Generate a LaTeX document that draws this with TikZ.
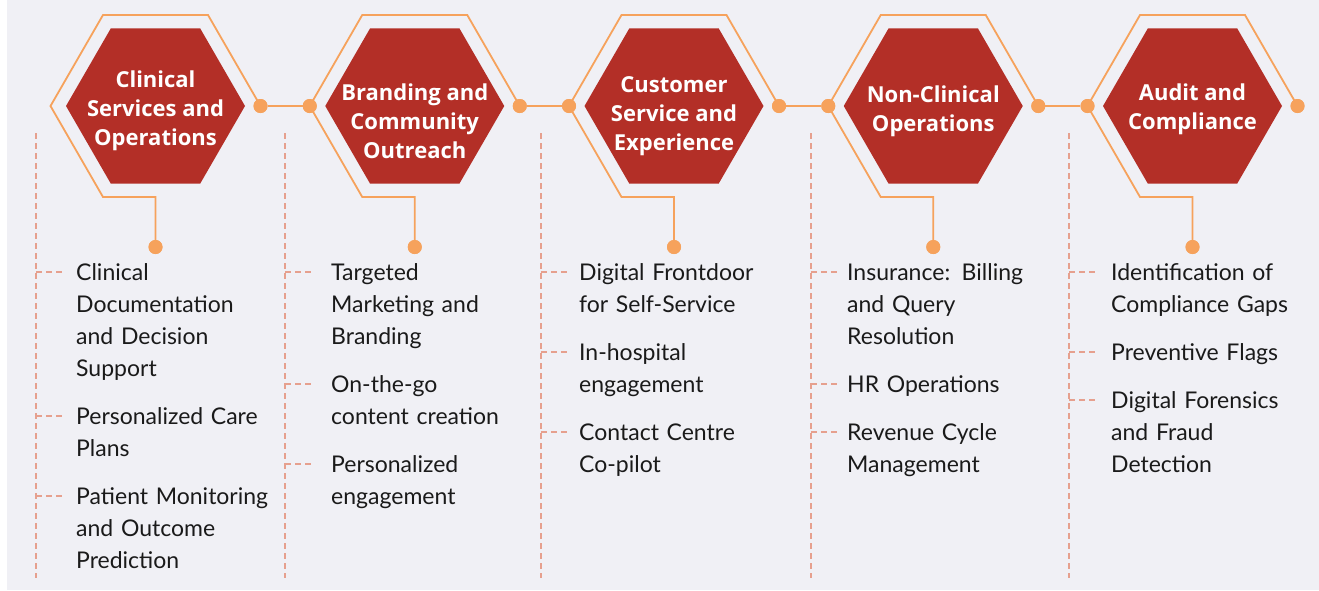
\documentclass[tikz,border=0pt]{standalone}
\usepackage{fontspec}
\setmainfont{Lato}
\newfontfamily\headfont{Open Sans}
\usetikzlibrary{shapes.geometric}
\definecolor{bgc}{HTML}{F0F0F5}
\definecolor{hexred}{HTML}{B32F27}
\definecolor{orng}{HTML}{F6A25C}
\definecolor{dashc}{HTML}{E6A08E}
\definecolor{txt}{HTML}{1A1A1A}
\tikzset{
  hexbox/.style={regular polygon, regular polygon sides=6, minimum size=179pt, inner sep=0pt, fill=hexred, draw=none},
  hextext/.style={text=white, font=\headfont\fontsize{22}{29}\selectfont\bfseries, align=center, inner sep=0pt},
  frame/.style={draw=orng, line width=1.8pt, line join=miter},
  dotc/.style={circle, fill=orng, minimum size=14pt, inner sep=0pt},
  vdash/.style={draw=dashc, line width=1.5pt, dash pattern=on 6pt off 4pt},
  item/.style={text=txt, font=\fontsize{23}{32}\selectfont, align=left, text width=230pt, inner sep=0pt, anchor=base west},
}
\begin{document}
\begin{tikzpicture}[x=1pt,y=-1pt]
\useasboundingbox (0,0) rectangle (1319,590);
\fill[bgc] (7,0) rectangle (1319,590);
% hexagons
\foreach \i/\cx in {1/155.5,2/414.75,3/674,4/933.25,5/1192.5}{
  \node[hexbox] (h\i) at (\cx,106) {};
  \coordinate (tr\i) at (\cx+52.5,15);
  \coordinate (tl\i) at (\cx-52.5,15);
  \coordinate (ml\i) at (\cx-105,106);
  \coordinate (bl\i) at (\cx-52.5,197);
  \coordinate (bc\i) at (\cx,197);
  \node[dotc] (r\i) at (\cx+105,106) {};
  \node[dotc] (b\i) at (\cx,247) {};
  \draw[frame] (r\i.center) -- (tr\i) -- (tl\i) -- (ml\i) -- (bl\i) -- (bc\i) -- (b\i.center);
}
\foreach \i/\cx in {2/414.75,3/674,4/933.25,5/1192.5}{
  \node[dotc] (l\i) at (\cx-105,106) {};
}
\foreach \a/\b in {1/2,2/3,3/4,4/5}{
  \draw[frame] (r\a) -- (l\b);
}
% redraw dots on top
\foreach \i in {1,2,3,4,5}{ \node[dotc] at (r\i) {}; \node[dotc] at (b\i) {}; }
\foreach \i in {2,3,4,5}{ \node[dotc] at (l\i) {}; }
% hexagon titles
\node[hextext] (t1) at (155.5,110.5) {Clinical\\Services and\\Operations};
\node[hextext] (t2) at (414.75,121) {Branding and\\Community\\Outreach};
\node[hextext] (t3) at (674,116.5) {Customer\\Service and\\Experience};
\node[hextext] (t4) at (933.25,111) {Non-Clinical\\Operations};
\node[hextext] (t5) at (1192.5,109) {Audit and\\Compliance};
% dashed verticals
\foreach \j/\x in {1/36,2/285,3/541,4/811,5/1069}{
  \coordinate (vt\j) at (\x,133);
  \coordinate (vb\j) at (\x,578);
  \draw[vdash] (vt\j) -- (vb\j);
}
% items
\newcommand{\itm}[5]{% name, linex, textx, baseline, text
  \node[item] (#1) at (#3,#4) {#5};
  \coordinate (#1s) at (#2,#4-8);
  \coordinate (#1e) at (#2+27,#4-8);
  \draw[vdash] (#1s) -- (#1e);
}
\itm{a1}{36}{76}{280}{Clinical\\Documentation\\and Decision\\Support}
\itm{a2}{36}{76}{424}{Personalized Care\\Plans}
\itm{a3}{36}{76}{504}{Patient Monitoring\\and Outcome\\Prediction}
\itm{b1}{285}{331}{280}{Targeted\\Marketing and\\Branding}
\itm{b2}{285}{331}{392}{On-the-go\\content creation}
\itm{b3}{285}{331}{472}{Personalized\\engagement}
\itm{c1}{541}{579}{280}{Digital Frontdoor\\for Self-Service}
\itm{c2}{541}{579}{360}{In-hospital\\engagement}
\itm{c3}{541}{579}{440}{Contact Centre\\Co-pilot}
\itm{d1}{811}{847}{280}{Insurance: Billing\\and Query\\Resolution}
\itm{d2}{811}{847}{392}{HR Operations}
\itm{d3}{811}{847}{440}{Revenue Cycle\\Management}
\itm{e1}{1069}{1111}{280}{Identification of\\Compliance Gaps}
\itm{e2}{1069}{1111}{360}{Preventive Flags}
\itm{e3}{1069}{1111}{408}{Digital Forensics\\and Fraud\\Detection}
\end{tikzpicture}
\end{document}
